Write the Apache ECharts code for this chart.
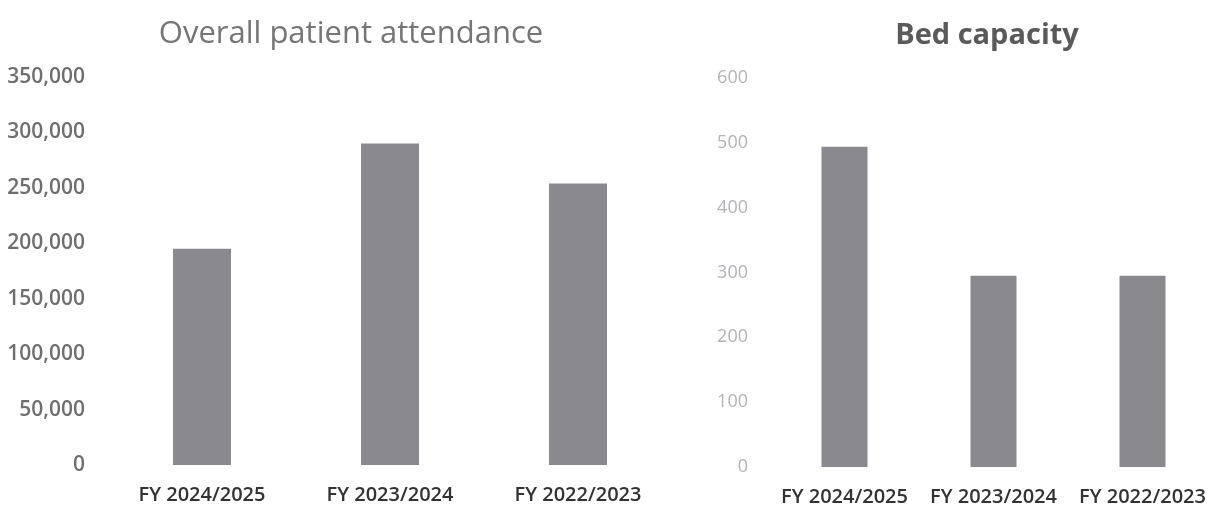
<!DOCTYPE html>
<html>
<head>
<meta charset="utf-8">
<title>Overall patient attendance / Bed capacity</title>
<script src="https://cdn.jsdelivr.net/npm/echarts@6/dist/echarts.min.js"></script>
<style>
  html, body { margin: 0; padding: 0; background: #fff; }
  #chart { width: 1231px; height: 510px; }
</style>
</head>
<body>
<div id="chart"></div>
<script>
// categories shared by both charts
const years = ['FY 2024/2025', 'FY 2023/2024', 'FY 2022/2023']
// left: overall patient attendance
const attendance = [195000, 290000, 254000]
// right: bed capacity
const beds = [494, 295, 295]

const barColor = '#8a8a8e'
const font = 'Open Sans'

// same look for both category axes
const catLabel = {
  interval: 0,
  hideOverlap: false,
  margin: 20,
  fontSize: 20,
  fontWeight: 600,
  color: '#333',
  verticalAlign: 'top'
}

const chart = echarts.init(document.getElementById('chart'))

chart.setOption({
  backgroundColor: '#fff',
  animation: false,
  textStyle: { fontFamily: font },
  title: [
    {
      text: 'Overall patient attendance',
      left: 346,
      top: 29,
      textAlign: 'center',
      textVerticalAlign: 'middle',
      textStyle: { fontSize: 31, fontWeight: 'normal', color: '#767676', fontFamily: font }
    },
    {
      text: 'Bed capacity',
      left: 982,
      top: 31,
      textAlign: 'center',
      textVerticalAlign: 'middle',
      textStyle: { fontSize: 29, fontWeight: 'bold', color: '#5a5a5a', fontFamily: font }
    }
  ],
  grid: [
    { left: 108, right: 559, top: 77, bottom: 45 },
    { left: 770, right: 14, top: 78, bottom: 43 }
  ],
  xAxis: [
    {
      type: 'category',
      gridIndex: 0,
      data: years,
      axisLine: { show: false },
      axisTick: { show: false },
      axisLabel: catLabel
    },
    {
      type: 'category',
      gridIndex: 1,
      data: years,
      axisLine: { show: false },
      axisTick: { show: false },
      axisLabel: catLabel
    }
  ],
  yAxis: [
    {
      type: 'value',
      gridIndex: 0,
      min: 0,
      max: 350000,
      interval: 50000,
      splitLine: { show: false },
      axisLine: { show: false },
      axisTick: { show: false },
      axisLabel: {
        margin: 23,
        fontSize: 21,
        fontWeight: 600,
        color: '#6e6e6e',
        formatter: (v) => v.toLocaleString('en-US')
      }
    },
    {
      type: 'value',
      gridIndex: 1,
      min: 0,
      max: 600,
      interval: 100,
      splitLine: { show: false },
      axisLine: { show: false },
      axisTick: { show: false },
      axisLabel: {
        margin: 22,
        fontSize: 18,
        color: '#b4b4b8'
      }
    }
  ],
  series: [
    {
      name: 'Overall patient attendance',
      type: 'bar',
      xAxisIndex: 0,
      yAxisIndex: 0,
      barWidth: 58,
      itemStyle: { color: barColor },
      data: attendance
    },
    {
      name: 'Bed capacity',
      type: 'bar',
      xAxisIndex: 1,
      yAxisIndex: 1,
      barWidth: 46,
      itemStyle: { color: barColor },
      data: beds
    }
  ]
})
</script>
</body>
</html>
